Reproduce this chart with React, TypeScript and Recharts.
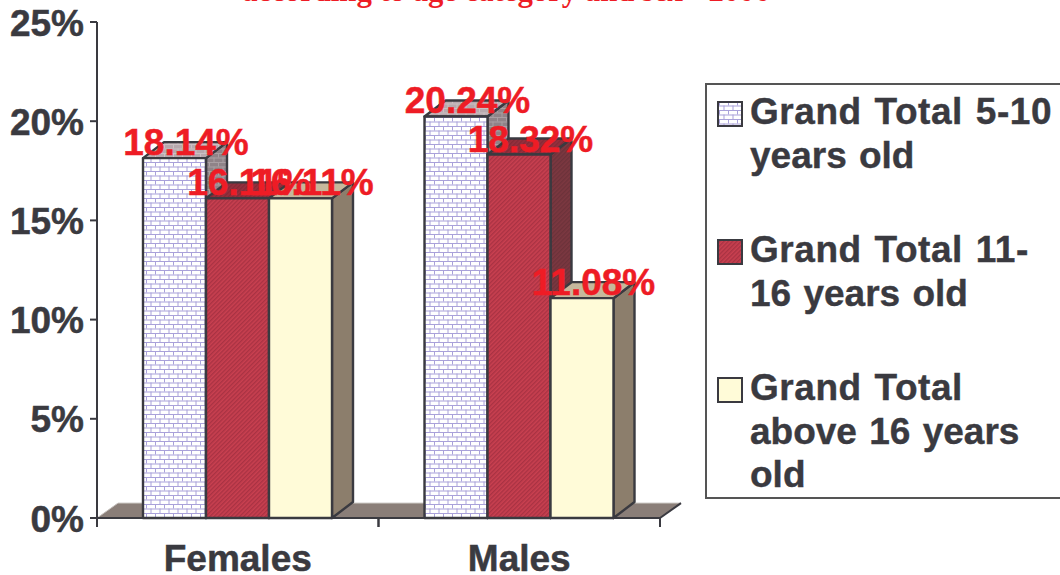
import React from "react";
import { BarChart, Bar, XAxis, YAxis, LabelList, ReferenceArea, Legend } from "recharts";

const categories = ["Females", "Males"];
const youngest = [18.14, 20.24];
const middle = [16.11, 18.32];
const oldest = [16.11, 11.08];
const yTicks = [0, 5, 10, 15, 20, 25];
const titleText = "according to age category and sex - 2006";
const legendLines = [
  ["Grand Total 5-10", "years old"],
  ["Grand Total 11-", "16 years old"],
  ["Grand Total", "above 16 years", "old"],
];

const rows = categories.map((name, i) => ({
  name,
  youngest: youngest[i],
  middle: middle[i],
  oldest: oldest[i],
}));

const DX = 21;
const DY = 16;
const FONT = "'Liberation Sans', Arial, sans-serif";
const INK = "#3a3a40";
const RED = "#ee1c25";

const faces = {
  youngest: { front: "url(#brick)", side: "url(#brickSide)", top: "url(#brickTop)", swatch: "url(#brick)" },
  middle: { front: "url(#hatch)", side: "url(#hatchSide)", top: "url(#hatchTop)", swatch: "url(#hatch)" },
  oldest: { front: "#fffbd8", side: "#8c7e6c", top: "#c6b89c", swatch: "#fffbd8" },
};

const Patterns = () => (
  <svg width={0} height={0} style={{ position: "absolute" }}>
    <defs>
      {[
        ["brick", "#ffffff", "#a9a1da"],
        ["brickSide", "#8f8388", "#a99fa3"],
        ["brickTop", "#b7a9ae", "#cbc0c3"],
      ].map(([id, bg, line]) => (
        <pattern key={id} id={id} width={9} height={9} patternUnits="userSpaceOnUse">
          <rect width={9} height={9} fill={bg} />
          <path d="M0 .5H9M0 5H9M2.5 0V4.5M7 4.5V9" stroke={line} strokeWidth={1} fill="none" />
        </pattern>
      ))}
      {[
        ["hatch", "#c94050", "#a93243"],
        ["hatchSide", "#7c3841", "#6c323a"],
        ["hatchTop", "#96303e", "#842a36"],
      ].map(([id, bg, line]) => (
        <pattern key={id} id={id} width={3} height={3} patternUnits="userSpaceOnUse" patternTransform="rotate(-45)">
          <rect width={3} height={3} fill={bg} />
          <rect width={3} height={1.4} fill={line} />
        </pattern>
      ))}
    </defs>
  </svg>
);

const Box3D = (key: keyof typeof faces) => (p: any) => {
  const { x, y, width, height } = p;
  const f = faces[key];
  const r = x + width;
  const b = y + height;
  return (
    <g stroke={INK} strokeWidth={2.4} strokeLinejoin="round">
      <path d={`M${r} ${y}L${r + DX} ${y - DY}V${b - DY}L${r} ${b}Z`} fill={f.side} />
      <path d={`M${x} ${y}L${x + DX} ${y - DY}H${r + DX}L${r} ${y}Z`} fill={f.top} />
      <rect x={x} y={y} width={width} height={height} fill={f.front} />
    </g>
  );
};

const Floor = (p: any) => {
  const { x, y, width, height } = p;
  const b = y + height;
  return (
    <g>
      <path d={`M${x} ${b}L${x + DX} ${y}H${x + width + DX}L${x + width} ${b}Z`} fill="#8a7e78" />
      <path d={`M${x} ${b}L${x + DX} ${y}H${x + width + DX}`} fill="none" stroke="#c4bfbb" strokeWidth={1} />
      <path d={`M${x + width} ${b}L${x + width + DX} ${y}`} fill="none" stroke={INK} strokeWidth={2} />
    </g>
  );
};

const ValueLabel = (p: any) => {
  const { x, y, width, value } = p;
  return (
    <text
      x={x + width / 2 + 11.5}
      y={y - 3}
      textAnchor="middle"
      fontFamily={FONT}
      fontWeight={700}
      fontSize={37}
      fill={RED}
      stroke={RED}
      strokeWidth={0.5}
    >
      {`${Number(value).toFixed(2)}%`}
    </text>
  );
};

const YTick = (p: any) => (
  <text
    x={p.x}
    y={p.y + 13.5}
    textAnchor="end"
    fontFamily={FONT}
    fontWeight={700}
    fontSize={37}
    fill={INK}
    stroke={INK}
    strokeWidth={0.5}
  >
    {`${p.payload.value}%`}
  </text>
);

const XTick = (p: any) => {
  const band = p.width / categories.length;
  const axisY = p.y - 2;
  return (
    <g>
      <line x1={p.x - band / 2} x2={p.x - band / 2} y1={axisY} y2={axisY + 9} stroke={INK} strokeWidth={2} />
      <line x1={p.x + band / 2} x2={p.x + band / 2} y1={axisY} y2={axisY + 9} stroke={INK} strokeWidth={2} />
      <text
        x={p.x}
        y={axisY + 53}
        textAnchor="middle"
        fontFamily={FONT}
        fontWeight={700}
        fontSize={37}
        fill={INK}
        stroke={INK}
        strokeWidth={0.5}
      >
        {p.payload.value}
      </text>
    </g>
  );
};

const seriesKeys = ["youngest", "middle", "oldest"] as const;

const LegendBox = () => (
  <div
    style={{
      position: "relative",
      width: 355,
      height: 416,
      boxSizing: "border-box",
      border: "2px solid #555",
      borderRight: "none",
      background: "#fff",
      fontFamily: FONT,
      fontWeight: 700,
      fontSize: 37,
      lineHeight: "43.5px",
      color: INK,
      WebkitTextStroke: `0.4px ${INK}`,
    }}
  >
    {legendLines.map((lines, i) => (
      <div key={i} style={{ position: "absolute", left: 0, top: [5, 143, 281][i] }}>
        <svg width={36} height={26} style={{ position: "absolute", left: 10, top: 11 }}>
          <rect x={1} y={1} width={24} height={24} fill={faces[seriesKeys[i]].swatch} stroke={INK} strokeWidth={2} />
        </svg>
        <div style={{ marginLeft: 43, whiteSpace: "nowrap", wordSpacing: 2 }}>
          {lines.map((t) => (
            <div key={t} style={{ letterSpacing: t.startsWith("Grand") ? 0.55 : 0 }}>
              {t}
            </div>
          ))}
        </div>
      </div>
    ))}
  </div>
);

export default function App() {
  return (
    <div style={{ position: "absolute", left: 0, top: 0, width: 1060, height: 575, overflow: "hidden", background: "#fff" }}>
      <Patterns />
      <BarChart
        width={1060}
        height={575}
        data={rows}
        margin={{ top: 22, right: 45, bottom: 0, left: 0 }}
        barGap={0}
        barSize={63}
      >
        <text
          x={506}
          y={1}
          textAnchor="middle"
          fontFamily="'Liberation Serif', serif"
          fontWeight={700}
          fontSize={30.7}
          fill={RED}
        >
          {titleText}
        </text>
        <XAxis
          xAxisId="cats"
          dataKey="name"
          tickLine={false}
          tickSize={0}
          tickMargin={2}
          stroke={INK}
          strokeWidth={2}
          height={57}
          tick={<XTick />}
          interval={0}
        />
        <XAxis xAxisId="labels" dataKey="name" hide />
        <YAxis
          width={97}
          domain={[0, 25]}
          ticks={yTicks}
          tickSize={7}
          tickMargin={6}
          tick={<YTick />}
          stroke={INK}
          strokeWidth={2}
          allowDecimals={false}
        />
        <ReferenceArea xAxisId="cats" y1={0} y2={0.75} shape={<Floor />} ifOverflow="visible" />
        {seriesKeys.map((k) => (
          <Bar key={k} xAxisId="cats" dataKey={k} shape={Box3D(k)} isAnimationActive={false} />
        ))}
        {seriesKeys.map((k) => (
          <Bar key={`${k}-label`} xAxisId="labels" dataKey={k} fill="none" isAnimationActive={false}>
            <LabelList dataKey={k} content={<ValueLabel />} />
          </Bar>
        ))}
        <Legend
          layout="vertical"
          align="right"
          verticalAlign="top"
          content={<LegendBox />}
          wrapperStyle={{ position: "absolute", left: 705, top: 83, width: 355, height: 416, right: "auto", margin: 0 }}
        />
      </BarChart>
    </div>
  );
}
